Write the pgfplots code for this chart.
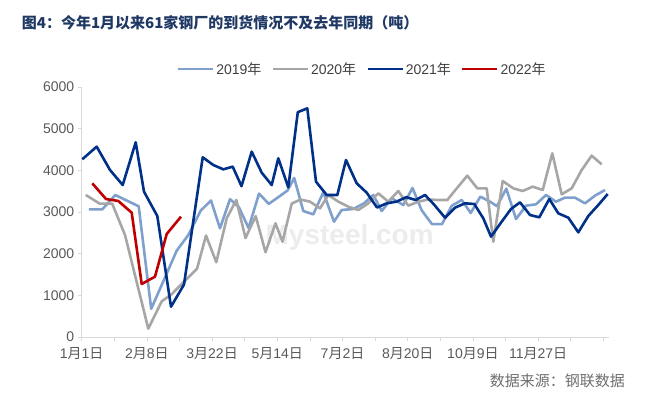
\documentclass[border=0pt]{standalone}
\usepackage{fontspec}
\setmainfont{Liberation Sans}
\newfontfamily\cjk{Noto Sans CJK SC}
\usepackage{pgfplots}
\pgfplotsset{compat=1.18}
\definecolor{c19}{RGB}{127,160,205}
\definecolor{c20}{RGB}{166,166,166}
\definecolor{c21}{RGB}{0,48,135}
\definecolor{c22}{RGB}{192,0,0}
\definecolor{titlec}{RGB}{31,56,100}
\definecolor{axisc}{RGB}{217,217,217}
\definecolor{labc}{RGB}{89,89,89}
\definecolor{legc}{RGB}{64,64,64}
\definecolor{srcc}{RGB}{110,110,110}
\begin{document}
\begin{tikzpicture}[x=1pt,y=1pt]
\useasboundingbox (-81.7,-59) rectangle (571.3,337);
\node[anchor=base west, font=\cjk\bfseries\fontsize{15}{18}\selectfont, text=titlec, inner sep=0] at (-60,308) {图4：今年1月以来61家钢厂的到货情况不及去年同期（吨）};
\node[font=\bfseries\fontsize{28}{30}\selectfont, text={rgb,255:red,236;green,236;blue,236}, inner sep=0] at (268,100) {Mysteel.com};
\node[anchor=base east, font=\cjk\fontsize{15}{18}\selectfont, text=srcc, inner sep=0] at (543.3,-49) {数据来源：钢联数据};
\begin{axis}[
  at={(0,0)}, anchor=south west,
  scale only axis, width=527.3pt, height=250pt,
  xmin=81.7, xmax=609, ymin=0, ymax=6000,
  axis x line=bottom, axis y line=left,
  axis line style={draw=axisc, line width=0.8pt, -},
  xtick={81.7,114.3,146.9,179.5,212.1,244.7,277.3,309.9,342.5,375.1,407.7,440.3,472.9,505.5,538.1,570.7,603.3},
  xticklabels={1{\cjk 月}1{\cjk 日},,2{\cjk 月}8{\cjk 日},,3{\cjk 月}22{\cjk 日},,5{\cjk 月}14{\cjk 日},,7{\cjk 月}2{\cjk 日},,8{\cjk 月}20{\cjk 日},,10{\cjk 月}9{\cjk 日},,11{\cjk 月}27{\cjk 日},,},
  ytick={0,1000,2000,3000,4000,5000,6000},
  tick align=outside, major tick length=4pt,
  tick style={draw=axisc, line width=0.8pt},
  ticklabel style={font=\fontsize{14}{16}\selectfont, text=labc},
  xticklabel style={yshift=-3pt},
  /pgf/number format/assume math mode=true,
  /pgf/number format/1000 sep={},
  scaled y ticks=false,
  clip=false,
  legend columns=4,
  legend style={at={(0.532,1.072)}, anchor=center, draw=none, fill=none,
    font=\fontsize{14}{16}\selectfont, text=legc,
    /tikz/every even column/.append style={column sep=8pt}},
  legend image code/.code={\draw[#1] (0pt,0pt) -- (35pt,0pt);},
  every axis plot/.append style={line width=2.6pt, line join=round, sharp plot, no markers},
]
\addplot[c19] coordinates {(88.8,3064)(102.3,3064)(115.3,3408)(138.7,3136)(151.2,676)(161.7,1248)(176.7,2072)(188.3,2448)(200.8,3036)(211,3276)(220,2608)(230,3308)(238.8,3120)(248.6,2616)(259,3440)(268.8,3196)(278.3,3356)(287.5,3516)(294.2,3816)(303.3,3024)(313.3,2944)(323.3,3472)(334,2768)(341.7,3048)(353.3,3072)(364,3208)(373.3,3408)(381.7,3024)(391.7,3328)(403.3,3168)(412.5,3576)(421.7,3040)(432,2708)(442,2708)(451.7,3148)(461.7,3288)(470.7,2976)(480.3,3368)(490,3248)(497,3140)(506.3,3560)(516,2832)(526,3152)(536,3184)(546,3408)(556,3248)(565,3344)(575,3344)(585,3208)(595,3392)(605,3528)};
\addlegendentry{2019{\cjk 年}}
\addplot[c20] coordinates {(85.8,3408)(99.7,3200)(112.2,3200)(125,2448)(148.3,200)(161.7,856)(171.7,1028)(184.5,1340)(197,1636)(206,2436)(216.3,1796)(226.7,2848)(236.3,3288)(245.5,2376)(255.7,2900)(265.5,2036)(275.5,2728)(282.5,2288)(291.7,3200)(300.3,3300)(310,3248)(320,3088)(328.3,3408)(338.3,3248)(348.3,3128)(358.3,3048)(368.3,3208)(378.3,3448)(388.3,3248)(398.3,3504)(408.3,3152)(418.3,3248)(428.3,3300)(438.3,3288)(447.3,3288)(457.3,3584)(467.3,3872)(477.3,3568)(486.7,3568)(493.3,2288)(502.7,3744)(513.3,3568)(522.7,3504)(532.7,3608)(542.7,3528)(552.3,4408)(561.7,3424)(571.7,3568)(581.7,4008)(591.7,4352)(601.7,4144)};
\addlegendentry{2020{\cjk 年}}
\addplot[c21] coordinates {(82.3,4265)(96.7,4568)(110,4008)(122.7,3648)(135.7,4672)(144,3488)(157.3,2904)(171,727)(184,1260)(202.7,4312)(213.3,4128)(223.3,4024)(232.7,4088)(241.5,3620)(251.7,4448)(261.7,3944)(271.7,3648)(278.3,4288)(288.3,3592)(297.8,5396)(307.3,5488)(316,3728)(326.7,3408)(337.3,3408)(346,4248)(356.7,3688)(366.7,3464)(377,3108)(386.7,3208)(396.8,3250)(406.2,3356)(415.7,3288)(425,3408)(434,3180)(445,2864)(455,3104)(465,3208)(474.3,3192)(483.3,2848)(491,2408)(501.7,2768)(511,3072)(520,3232)(530,2928)(539.3,2872)(549.3,3312)(558.3,2968)(568.3,2864)(578.3,2512)(588.3,2904)(598.3,3168)(607.7,3432)};
\addlegendentry{2021{\cjk 年}}
\addplot[c22] coordinates {(92.3,3688)(106,3312)(118.3,3264)(131.7,2984)(141.7,1272)(155,1448)(166.7,2472)(181,2888)};
\addlegendentry{2022{\cjk 年}}
\end{axis}
\end{tikzpicture}
\end{document}
